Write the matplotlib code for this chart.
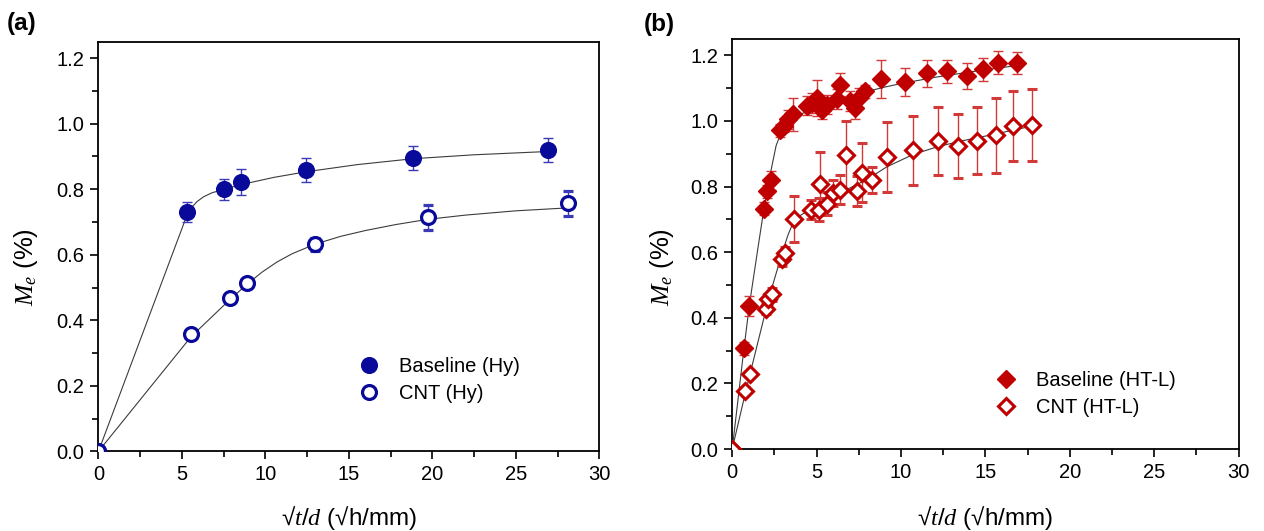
import numpy as np
import matplotlib
matplotlib.use("Agg")
import matplotlib.pyplot as plt

plt.rcParams['font.family'] = ['Liberation Sans', 'DejaVu Sans']
plt.rcParams['mathtext.fontset'] = 'custom'
plt.rcParams['mathtext.rm'] = 'Liberation Sans'
plt.rcParams['mathtext.it'] = 'Liberation Serif:italic'
plt.rcParams['mathtext.bf'] = 'Liberation Sans:bold'

# ---------------- Panel (a) data ----------------
a_base_x = [0, 5.31, 7.53, 8.54, 12.42, 18.84, 26.9]
a_base_y = [0, 0.730, 0.800, 0.821, 0.858, 0.896, 0.920]
a_base_err = [0, 0.030, 0.032, 0.040, 0.037, 0.037, 0.037]

a_cnt_x = [0, 5.55, 7.87, 8.90, 12.96, 19.72, 28.13]
a_cnt_y = [0, 0.359, 0.467, 0.515, 0.632, 0.715, 0.757]
a_cnt_err = [0, 0.012, 0.012, 0.012, 0.020, 0.038, 0.039]

# fitted curves
a_fit_base_x = [0, 5.31, 5.6, 5.9, 6.3, 6.8, 7.53, 8.54, 10.5, 12.42, 15.5, 18.84, 22.5, 26.9]
a_fit_base_y = [0, 0.722, 0.745, 0.762, 0.777, 0.789, 0.800, 0.814, 0.836, 0.853, 0.875,
                0.893, 0.905, 0.915]
a_fit_cnt_x = [0, 5.55, 7.87, 8.9, 9.8, 10.7, 11.6, 12.96, 14.5, 16.0, 17.8, 19.72, 22.0,
               25.0, 28.13]
a_fit_cnt_y = [0, 0.350, 0.463, 0.510, 0.547, 0.578, 0.603, 0.632, 0.656, 0.674, 0.692,
               0.708, 0.721, 0.734, 0.743]

# ---------------- Panel (b) data ----------------
b_base_x = [0, 0.68, 1.01, 1.88, 2.04, 2.27, 2.83, 3.05, 3.3, 3.6, 4.41, 4.75, 5.0, 5.3,
            5.6, 6.18, 6.38, 6.97, 7.27, 7.5, 7.86, 8.79, 10.23, 11.55, 12.7, 13.89,
            14.87, 15.76, 16.88]
b_base_y = [0, 0.307, 0.437, 0.733, 0.786, 0.819, 0.971, 0.985, 1.005, 1.020, 1.047, 1.055,
            1.071, 1.035, 1.050, 1.066, 1.111, 1.060, 1.040, 1.070, 1.091, 1.129, 1.119,
            1.145, 1.152, 1.137, 1.157, 1.178, 1.176]
b_base_err = [0, 0.02, 0.03, 0.02, 0.02, 0.03, 0.02, 0.02, 0.03, 0.05, 0.03, 0.03,
              0.055, 0.03, 0.03, 0.03, 0.036, 0.03, 0.035, 0.03, 0.02, 0.058, 0.043,
              0.04, 0.035, 0.04, 0.035, 0.035, 0.033]

b_cnt_x = [0, 0.75, 1.05, 2.0, 2.13, 2.33, 2.93, 3.12, 3.64, 4.66, 5.14, 5.2, 5.59, 5.98,
           6.38, 6.72, 7.37, 7.67, 8.26, 9.15, 10.72, 12.2, 13.39, 14.51, 15.6, 16.61, 17.74]
b_cnt_y = [0, 0.178, 0.229, 0.427, 0.457, 0.472, 0.579, 0.597, 0.700, 0.730, 0.730, 0.809,
           0.748, 0.781, 0.791, 0.895, 0.786, 0.842, 0.819, 0.891, 0.911, 0.940, 0.923,
           0.940, 0.956, 0.984, 0.987]
b_cnt_err = [0, 0.01, 0.01, 0.015, 0.015, 0.02, 0.02, 0.02, 0.07, 0.03, 0.035, 0.095,
             0.035, 0.04, 0.045, 0.105, 0.045, 0.09, 0.04, 0.107, 0.105, 0.104, 0.097,
             0.103, 0.115, 0.107, 0.11]

b_fit_base_x = [0, 0.68, 1.01, 1.5, 1.88, 2.3, 2.6, 2.9, 3.3, 4.0, 5.0, 6.0, 7.0, 8.0, 9.0,
                10.0, 12.0, 14.0, 16.0, 16.88]
b_fit_base_y = [0, 0.300, 0.437, 0.605, 0.733, 0.850, 0.925, 0.965, 0.993, 1.020, 1.040,
                1.058, 1.075, 1.090, 1.103, 1.114, 1.133, 1.149, 1.163, 1.169]
b_fit_cnt_x = [0, 0.75, 1.05, 2.0, 2.33, 2.93, 3.3, 3.64, 4.0, 4.7, 5.5, 6.5, 7.5, 8.3,
               9.15, 10.72, 12.2, 13.4, 14.5, 15.6, 16.6, 17.74]
b_fit_cnt_y = [0, 0.165, 0.228, 0.425, 0.488, 0.593, 0.652, 0.694, 0.711, 0.733, 0.755,
               0.784, 0.809, 0.832, 0.860, 0.898, 0.922, 0.937, 0.949, 0.960, 0.972, 0.984]

BLUE = '#0A0A9A'
BLUE_ERR = '#3A3AB8'
RED = '#C00000'
RED_ERR = '#D23A3A'
FIT = '#3C3C3C'

fig = plt.figure(figsize=(12.64, 5.31), dpi=100)
axA = fig.add_axes([0.0779, 0.150, 0.3962, 0.7714])
axB = fig.add_axes([0.5793, 0.1544, 0.4006, 0.7722])

TICK_FS = 14.5


def style(ax, ylab_x, ylab_y, xlab_y):
    ax.set_xlim(0, 30)
    ax.set_ylim(0, 1.25)
    ax.set_xticks(np.arange(0, 31, 5))
    ax.set_xticks(np.arange(2.5, 30, 5), minor=True)
    ax.set_yticks(np.arange(0, 1.21, 0.2))
    ax.set_yticks(np.arange(0.1, 1.21, 0.2), minor=True)
    ax.yaxis.set_major_formatter(matplotlib.ticker.FormatStrFormatter('%.1f'))
    ax.tick_params(which='major', direction='out', length=6, width=1.2,
                   labelsize=TICK_FS, pad=4)
    ax.tick_params(which='minor', direction='out', length=4, width=1.2)
    for s in ax.spines.values():
        s.set_linewidth(1.3)
    ax.set_xlabel('√$\\mathit{t/d}$ (√h/mm)', fontsize=17.5)
    ax.xaxis.set_label_coords(0.5, xlab_y)
    ax.xaxis.label.set_va('center')
    ax.set_ylabel(r'$M_e$ (%)', fontsize=18.5)
    ax.yaxis.set_label_coords(ylab_x, ylab_y)
    ax.yaxis.label.set_va('center')


style(axA, -0.145, 0.45, -0.163)
style(axB, -0.139, 0.444, -0.168)

# Panel (a)
axA.plot(a_fit_base_x, a_fit_base_y, color=FIT, lw=0.8, zorder=2)
axA.plot(a_fit_cnt_x, a_fit_cnt_y, color=FIT, lw=0.8, zorder=2)
ebA1 = axA.errorbar(a_base_x, a_base_y, yerr=a_base_err, fmt='o', ms=11.3, color=BLUE,
                    mfc=BLUE, mec=BLUE, ecolor=BLUE_ERR, elinewidth=1, capsize=3.5,
                    capthick=1, zorder=3)
ebA2 = axA.errorbar(a_cnt_x, a_cnt_y, yerr=a_cnt_err, fmt='o', ms=10, color=BLUE,
                    mfc='white', mec=BLUE, mew=2.3, ecolor=BLUE_ERR, elinewidth=1,
                    capsize=3.5, capthick=1, zorder=3)
axA.legend([ebA1[0], ebA2[0]], ['Baseline (Hy)', 'CNT (Hy)'],
           loc='upper left', bbox_to_anchor=(0.5, 0.251), frameon=False,
           fontsize=14.5, handletextpad=0.9, labelspacing=0.42,
           handlelength=1.2, borderaxespad=0)

# Panel (b)
axB.plot(b_fit_base_x, b_fit_base_y, color=FIT, lw=0.8, zorder=2)
axB.plot(b_fit_cnt_x, b_fit_cnt_y, color=FIT, lw=0.8, zorder=2)
ebB1 = axB.errorbar(b_base_x, b_base_y, yerr=b_base_err, fmt='D', ms=9, color=RED,
                    mfc=RED, mec=RED, ecolor=RED_ERR, elinewidth=1, capsize=3.5,
                    capthick=1, zorder=3)
ebB2 = axB.errorbar(b_cnt_x, b_cnt_y, yerr=b_cnt_err, fmt='D', ms=8, color=RED,
                    mfc='white', mec=RED, mew=2.2, ecolor=RED_ERR, elinewidth=1,
                    capsize=3.5, capthick=1, zorder=3)
axB.legend([ebB1[0], ebB2[0]], ['Baseline (HT-L)', 'CNT (HT-L)'],
           loc='upper left', bbox_to_anchor=(0.5, 0.211), frameon=False,
           fontsize=14.5, handletextpad=0.9, labelspacing=0.42,
           handlelength=1.2, borderaxespad=0)

fig.text(0.005, 0.955, '(a)', fontsize=17.5, fontweight='bold', ha='left', va='center')
fig.text(0.509, 0.953, '(b)', fontsize=17.5, fontweight='bold', ha='left', va='center')

fig.savefig('out.png', dpi=100)
